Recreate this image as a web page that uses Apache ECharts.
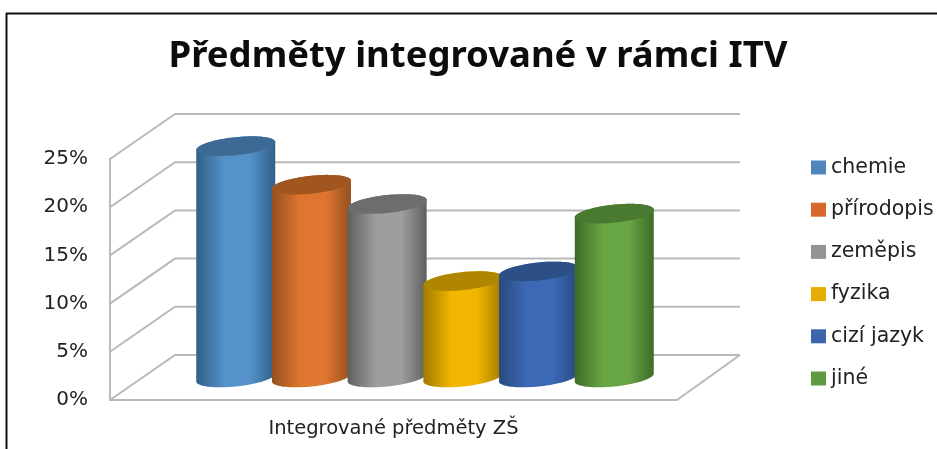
<!DOCTYPE html>
<html>
<head>
<meta charset="utf-8">
<style>
  html, body { margin: 0; padding: 0; background: #fff; }
  #main { width: 937px; height: 449px; }
</style>
<script src="https://cdn.jsdelivr.net/npm/echarts@6/dist/echarts.min.js"></script>
</head>
<body>
<div id="main"></div>
<script>
// data
const axisCategories = ['Integrované předměty ZŠ'];
const subjects = ['chemie', 'přírodopis', 'zeměpis', 'fyzika', 'cizí jazyk', 'jiné'];
const shares = [24, 20, 18, 10, 11, 17];
const gridTicks = [0, 5, 10, 15, 20, 25];

// colours per subject
const legendColors = ['#4f86bd', '#d6692b', '#949494', '#e6ac00', '#3d65ad', '#5f9a40'];
const lightColors = ['#5592c9', '#e07530', '#9e9e9e', '#f2b600', '#3c69b6', '#68a543'];
const edgeColors = ['#315f88', '#94501e', '#5f5f5f', '#a37a00', '#2a4a80', '#3f6b29'];
const topColors = ['#3c6a94', '#a1561f', '#6d6d6d', '#b08500', '#2c4f88', '#4a7a30'];

// fake 3d settings
const depthX = 65, depthY = -45;
const barStep = 75.7, radiusX = 39.5, radiusY = 9, tilt = -0.1;

function ellipsePoint(cx, cy, t) {
  const ex = radiusX * Math.cos(t);
  const ey = radiusY * Math.sin(t);
  return [cx + ex, cy + ey + ex * tilt];
}

function renderWall(params, api) {
  const v = api.value(1);
  const p = api.coord([0, v]);
  const sys = params.coordSys;
  const left = sys.x, right = sys.x + sys.width;
  const children = [{
    type: 'polyline',
    shape: { points: [[left, p[1]], [left + depthX, p[1] + depthY], [right + depthX - 2, p[1] + depthY]] },
    style: { fill: null, stroke: '#b9b9b9', lineWidth: 2 }
  }];
  if (v === 0) {
    children.push({
      type: 'line',
      shape: { x1: right, y1: p[1], x2: right + depthX - 2, y2: p[1] + depthY },
      style: { stroke: '#b9b9b9', lineWidth: 2 }
    });
  }
  return { type: 'group', children: children };
}

function renderCylinder(index) {
  return function (params, api) {
    const top = api.coord([0, api.value(1)]);
    const base = api.coord([0, 0]);
    const cx = top[0] + depthX / 2 - 1 + (index - 2.5) * barStep;
    const topY = top[1] + depthY / 2;
    const baseY = base[1] + depthY / 2;
    const body = [], cap = [];
    const n = 48;
    for (let i = 0; i <= n; i++) {
      body.push(ellipsePoint(cx, baseY, Math.PI * i / n));
    }
    for (let i = 0; i <= n; i++) {
      body.push(ellipsePoint(cx, topY, Math.PI + Math.PI * i / n));
    }
    for (let i = 0; i < n * 2; i++) {
      cap.push(ellipsePoint(cx, topY, Math.PI * i / n));
    }
    return {
      type: 'group',
      children: [{
        type: 'polygon',
        shape: { points: body },
        style: {
          fill: new echarts.graphic.LinearGradient(0, 0, 1, 0, [
            { offset: 0, color: edgeColors[index] },
            { offset: 0.36, color: lightColors[index] },
            { offset: 0.68, color: lightColors[index] },
            { offset: 1, color: edgeColors[index] }
          ])
        }
      }, {
        type: 'polygon',
        shape: { points: cap },
        style: { fill: topColors[index] }
      }]
    };
  };
}

const chart = echarts.init(document.getElementById('main'));

const series = [{
  name: 'mřížka',
  type: 'custom',
  renderItem: renderWall,
  encode: { x: 0, y: 1 },
  silent: true,
  z: 1,
  data: gridTicks.map(function (v) { return [0, v]; })
}];
subjects.forEach(function (name, i) {
  series.push({
    name: name,
    type: 'custom',
    renderItem: renderCylinder(i),
    encode: { x: 0, y: 1 },
    itemStyle: { color: legendColors[i] },
    z: 2 + i,
    data: [[0, shares[i]]]
  });
});

chart.setOption({
  backgroundColor: '#fff',
  animation: false,
  textStyle: { fontFamily: '"DejaVu Sans", sans-serif' },
  title: {
    text: 'Předměty integrované v rámci ITV',
    left: 473,
    top: 33,
    textAlign: 'center',
    textStyle: { fontFamily: '"Noto Sans", sans-serif', fontSize: 36.5, fontWeight: 'bold', color: '#0c0c0c' }
  },
  legend: {
    orient: 'vertical',
    left: 806,
    top: 152,
    itemWidth: 15,
    itemHeight: 14,
    itemGap: 21.2,
    icon: 'rect',
    data: subjects,
    textStyle: { fontFamily: '"DejaVu Sans", sans-serif', fontSize: 20.5, color: '#222', padding: 0 }
  },
  grid: { left: 110, top: 159, width: 567, height: 241 },
  xAxis: {
    type: 'category',
    data: axisCategories,
    axisTick: { show: false },
    axisLine: { lineStyle: { color: '#b9b9b9', width: 2 } },
    axisLabel: { fontFamily: '"DejaVu Sans", sans-serif', fontSize: 19.5, color: '#222', margin: 19 }
  },
  yAxis: {
    type: 'value',
    min: 0,
    max: 25,
    interval: 5,
    splitLine: { show: false },
    axisTick: { show: false },
    axisLine: { show: true, lineStyle: { color: '#b9b9b9', width: 2 } },
    axisLabel: { fontFamily: '"DejaVu Sans", sans-serif', formatter: '{value}%', fontSize: 20, color: '#222', margin: 22 }
  },
  graphic: [
    { type: 'line', silent: true, shape: { x1: 6, y1: 13.5, x2: 937, y2: 13.5 }, style: { stroke: '#111', lineWidth: 2 } },
    { type: 'line', silent: true, shape: { x1: 6.5, y1: 13, x2: 6.5, y2: 449 }, style: { stroke: '#111', lineWidth: 2 } }
  ],
  series: series
});
</script>
</body>
</html>
